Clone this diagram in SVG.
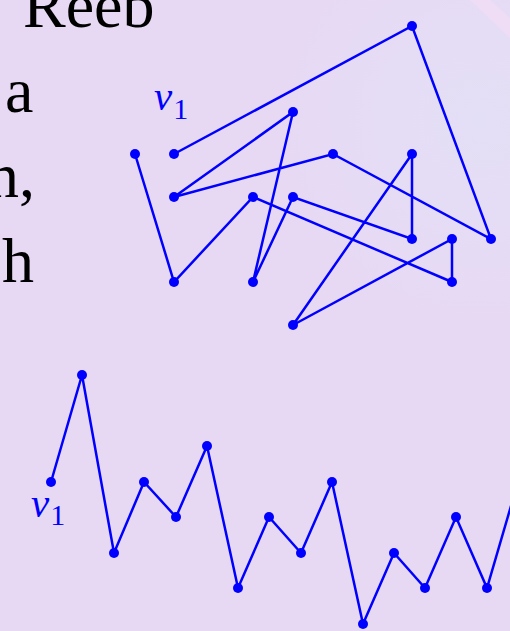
<svg xmlns="http://www.w3.org/2000/svg" width="510" height="631" viewBox="0 0 510 631">
<defs>
<radialGradient id="glow" cx="480" cy="120" r="200" gradientUnits="userSpaceOnUse">
<stop offset="0" stop-color="#e3e0f6" stop-opacity="0.9"/>
<stop offset="1" stop-color="#e3e0f6" stop-opacity="0"/>
</radialGradient>
<style>
.edge{fill:none;stroke:#0000ff;stroke-width:2.5;stroke-linejoin:miter;stroke-linecap:round}
.node{fill:#0000ff}
.body{font-family:"Liberation Serif","DejaVu Serif",serif;font-size:64px;fill:#000}
.lab{font-family:"Liberation Serif","DejaVu Serif",serif;fill:#0000ff}
.lab .v{font-style:italic;font-size:41px}
.lab .s{font-size:30px}
</style>
</defs>
<rect width="510" height="631" fill="#e7d9f4"/>
<rect width="510" height="631" fill="url(#glow)"/>
<polygon points="470,0 490,0 510,18 510,38" fill="#f1ddf6" opacity="0.8"/>

<g id="text">
<text class="body" x="23" y="27">Reeb</text>
<text class="body" x="5" y="112">a</text>
<text class="body" x="35" y="197" text-anchor="end">n,</text>
<text class="body" x="2" y="282">h</text>
</g>

<g id="connectors">
<polyline class="edge" points="135,154 174,282 253,197 452,282 452,239 293,325 412,154 412,239 293,197 253,282 293,112 174,197 333,154 491,239 412,26 174,154"/>
<polyline class="edge" points="51,482 82,375 114,553 144,482 176,517 207,446 238,588 269,517 301,553 332,482 363,624 394,553 425,588 456,517 487,588 518,482"/>
</g>

<g id="top-graph">
<g id="t1"><circle class="node" cx="135" cy="154" r="5"/></g>
<g id="t2"><circle class="node" cx="174" cy="154" r="5"/></g>
<g id="t3"><circle class="node" cx="412" cy="26" r="5"/></g>
<g id="t4"><circle class="node" cx="293" cy="112" r="5"/></g>
<g id="t5"><circle class="node" cx="333" cy="154" r="5"/></g>
<g id="t6"><circle class="node" cx="412" cy="154" r="5"/></g>
<g id="t7"><circle class="node" cx="174" cy="197" r="5"/></g>
<g id="t8"><circle class="node" cx="253" cy="197" r="5"/></g>
<g id="t9"><circle class="node" cx="293" cy="197" r="5"/></g>
<g id="t10"><circle class="node" cx="412" cy="239" r="5"/></g>
<g id="t11"><circle class="node" cx="452" cy="239" r="5"/></g>
<g id="t12"><circle class="node" cx="491" cy="239" r="5"/></g>
<g id="t13"><circle class="node" cx="174" cy="282" r="5"/></g>
<g id="t14"><circle class="node" cx="253" cy="282" r="5"/></g>
<g id="t15"><circle class="node" cx="452" cy="282" r="5"/></g>
<g id="t16"><circle class="node" cx="293" cy="325" r="5"/></g>
<text class="lab" x="154" y="110"><tspan class="v">v</tspan><tspan class="s" dx="1" dy="9">1</tspan></text>
</g>

<g id="bottom-graph">
<g id="b1"><circle class="node" cx="51" cy="482" r="5"/></g>
<g id="b2"><circle class="node" cx="82" cy="375" r="5"/></g>
<g id="b3"><circle class="node" cx="114" cy="553" r="5"/></g>
<g id="b4"><circle class="node" cx="144" cy="482" r="5"/></g>
<g id="b5"><circle class="node" cx="176" cy="517" r="5"/></g>
<g id="b6"><circle class="node" cx="207" cy="446" r="5"/></g>
<g id="b7"><circle class="node" cx="238" cy="588" r="5"/></g>
<g id="b8"><circle class="node" cx="269" cy="517" r="5"/></g>
<g id="b9"><circle class="node" cx="301" cy="553" r="5"/></g>
<g id="b10"><circle class="node" cx="332" cy="482" r="5"/></g>
<g id="b11"><circle class="node" cx="363" cy="624" r="5"/></g>
<g id="b12"><circle class="node" cx="394" cy="553" r="5"/></g>
<g id="b13"><circle class="node" cx="425" cy="588" r="5"/></g>
<g id="b14"><circle class="node" cx="456" cy="517" r="5"/></g>
<g id="b15"><circle class="node" cx="487" cy="588" r="5"/></g>
<g id="b16"><circle class="node" cx="518" cy="482" r="5"/></g>
<text class="lab" x="31" y="517"><tspan class="v">v</tspan><tspan class="s" dx="1" dy="8">1</tspan></text>
</g>
</svg>
